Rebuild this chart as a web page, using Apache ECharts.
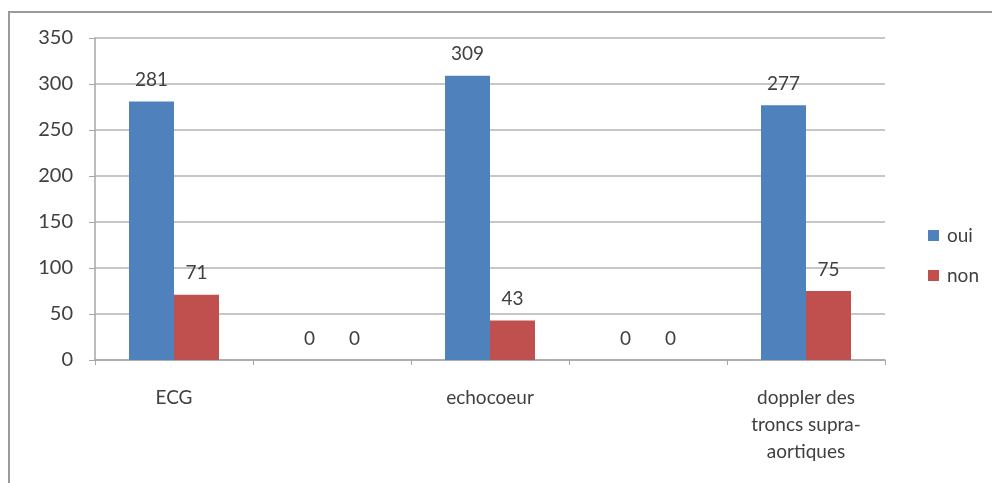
<!DOCTYPE html>
<html>
<head>
<meta charset="utf-8">
<script src="https://cdn.jsdelivr.net/npm/echarts@6/dist/echarts.min.js"></script>
<style>
html,body{margin:0;padding:0;background:#fff;}
#main{width:992px;height:483px;}
</style>
</head>
<body>
<div id="main"></div>
<script>
const categories = ["ECG", "", "echocoeur", "", "doppler des\ntroncs supra-\naortiques"];
const seriesNames = ["oui", "non"];
const ouiValues = [281, 0, 309, 0, 277];
const nonValues = [71, 0, 43, 0, 75];
const yTicks = [0, 50, 100, 150, 200, 250, 300, 350];

const font = "Lato, 'Open Sans', sans-serif";
const textColor = "#404040";
const chart = echarts.init(document.getElementById('main'), null, {renderer: 'canvas'});
chart.setOption({
  backgroundColor: '#fff',
  animation: false,
  textStyle: {fontFamily: font},
  graphic: [{
    type: 'rect',
    shape: {x: 9, y: 12, width: 1000, height: 500},
    style: {fill: 'none', stroke: '#9a9a9a', lineWidth: 2}
  }],
  grid: {left: 95, right: 107, top: 38, bottom: 123, containLabel: false},
  legend: {
    orient: 'vertical',
    left: 923,
    top: 221,
    itemWidth: 11,
    itemHeight: 11,
    itemGap: 21,
    icon: 'rect',
    data: seriesNames,
    textStyle: {fontSize: 19, color: textColor, fontFamily: font, padding: [0, 0, 0, 3]}
  },
  xAxis: {
    type: 'category',
    data: categories,
    axisLine: {lineStyle: {color: '#a6a6a6', width: 1.5}},
    axisTick: {show: true, length: 5, alignWithLabel: false, lineStyle: {color: '#a6a6a6'}},
    axisLabel: {interval: 0, fontSize: 19, color: textColor, lineHeight: 27, margin: 24, fontFamily: font},
    splitLine: {show: false}
  },
  yAxis: {
    type: 'value',
    min: yTicks[0],
    max: yTicks[yTicks.length - 1],
    interval: 50,
    axisLine: {show: true, lineStyle: {color: '#a6a6a6', width: 1.5}},
    axisTick: {show: true, length: 6, lineStyle: {color: '#a6a6a6'}},
    axisLabel: {fontSize: 20, color: textColor, margin: 22, fontFamily: font},
    splitLine: {lineStyle: {color: '#b4b4b4', width: 1.5}}
  },
  series: [
    {
      name: seriesNames[0], type: 'bar', data: ouiValues, barWidth: 45, barGap: '0%',
      itemStyle: {color: '#4F81BD'},
      label: {show: true, position: 'top', distance: 12, fontSize: 19, color: textColor, fontFamily: font}
    },
    {
      name: seriesNames[1], type: 'bar', data: nonValues, barWidth: 45, barGap: '0%',
      itemStyle: {color: '#C0504D'},
      label: {show: true, position: 'top', distance: 12, fontSize: 19, color: textColor, fontFamily: font}
    }
  ]
});
</script>
</body>
</html>
